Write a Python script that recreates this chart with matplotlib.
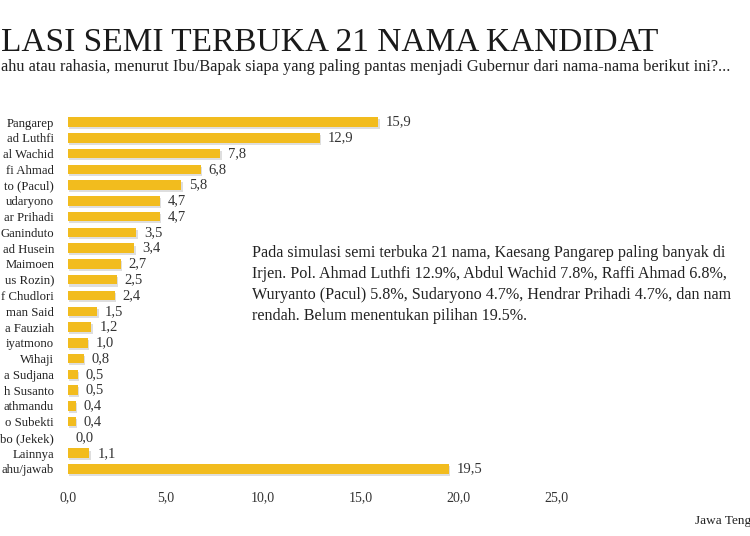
import matplotlib
matplotlib.use("Agg")
import matplotlib.pyplot as plt
import matplotlib.patheffects as pe

labels = ["Pangarep", "ad Luthfi", "al Wachid", "fi Ahmad", "to (Pacul)", "udaryono",
          "ar Prihadi", "Ganinduto", "ad Husein", "Maimoen", "us Rozin)", "f Chudlori",
          "man Said", "a Fauziah", "iyatmono", "Wihaji", "a Sudjana", "h Susanto",
          "athmandu", "o Subekti", "bo (Jekek)", "Lainnya", "ahu/jawab"]
values = [15.9, 12.9, 7.8, 6.8, 5.8, 4.7, 4.7, 3.5, 3.4, 2.7, 2.5, 2.4,
          1.5, 1.2, 1.0, 0.8, 0.5, 0.5, 0.4, 0.4, 0.0, 1.1, 19.5]
xticks = [0, 5, 10, 15, 20, 25]

title = "LASI SEMI TERBUKA 21 NAMA KANDIDAT"
subtitle = ("ahu atau rahasia, menurut Ibu/Bapak siapa yang paling pantas menjadi "
            "Gubernur dari nama-nama berikut ini?...")
note_lines = [
    "Pada simulasi semi terbuka 21 nama, Kaesang Pangarep paling banyak di",
    "Irjen. Pol. Ahmad Luthfi 12.9%, Abdul Wachid 7.8%, Raffi Ahmad 6.8%,",
    "Wuryanto (Pacul) 5.8%, Sudaryono 4.7%, Hendrar Prihadi 4.7%, dan nam",
    "rendah. Belum menentukan pilihan 19.5%.",
]
source = "Jawa Teng"

W, H = 750, 536
fig = plt.figure(figsize=(W / 100, H / 100), dpi=100)
fig.patch.set_facecolor("white")

serif = ["Liberation Serif", "DejaVu Serif"]
color = "#F2BC1E"

n = len(values)
sp = (469 - 122) / (n - 1)
top_px = 122 - 0.6 * sp
bot_px = 469 + 0.6 * sp
left_px = 68
ppu = (556 - 68) / 25.0
xmax = (W - left_px) / ppu
ax = fig.add_axes([left_px / W, 1 - bot_px / H, (W - left_px) / W, (bot_px - top_px) / H])
ax.set_xlim(0, xmax)
ax.set_ylim(n - 1 + 0.6, -0.6)

ypos = list(range(n))
bars = ax.barh(ypos, values, height=0.6, color=color, edgecolor="none")
for b in bars:
    b.set_path_effects([pe.SimplePatchShadow(offset=(1, -1.5), shadow_rgbFace="#c9c9c9", alpha=0.6),
                        pe.Normal()])

for y, v in zip(ypos, values):
    ax.text(v + 0.4, y, f"{v:.1f}".replace(".", ","), va="center", ha="left",
            fontsize=10.5, family=serif, color="#333333")

ax.set_yticks(ypos)
ax.set_yticklabels(labels, family=serif, fontsize=9.2, color="#222222")
ax.tick_params(axis="y", length=0, pad=10)
ax.set_xticks(xticks)
ax.set_xticklabels([f"{t:.1f}".replace(".", ",") for t in xticks], family=serif,
                   fontsize=10, color="#333333")
ax.tick_params(axis="x", length=0, pad=9)
for s in ax.spines.values():
    s.set_visible(False)

fig.text(1 / W, 1 - 43 / H, title, ha="left", va="center", fontsize=24,
         family=serif, color="#1a1a1a")
fig.text(1 / W, 1 - 67 / H, subtitle, ha="left", va="center", fontsize=11.8,
         family=serif, color="#222222")

for i, line in enumerate(note_lines):
    fig.text(252 / W, 1 - (253 + 21 * i) / H, line, ha="left", va="center",
             fontsize=11.6, family=serif, color="#222222")

fig.text(695 / W, 1 - 521 / H, source, ha="left", va="center", fontsize=9.5,
         family=serif, color="#222222")

fig.savefig("out.png", dpi=100, facecolor="white")
